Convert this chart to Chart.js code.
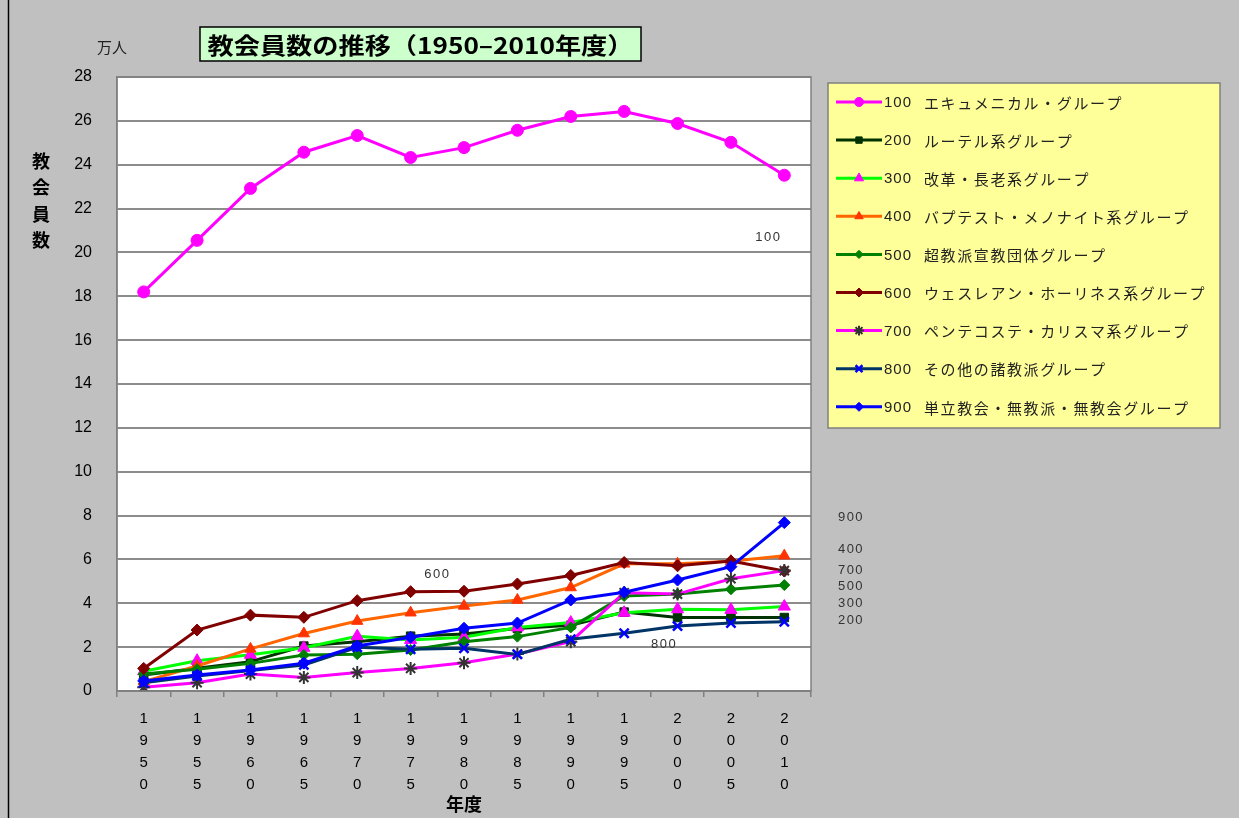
<!DOCTYPE html>
<html>
<head>
<meta charset="utf-8">
<script src="https://cdn.jsdelivr.net/npm/chart.js@4.4.1/dist/chart.umd.min.js"></script>
<style>
  html, body { margin: 0; padding: 0; background: #c0c0c0; }
  #wrap { position: relative; width: 1239px; height: 818px; }
</style>
</head>
<body>
<div id="wrap"><canvas id="chart" width="1239" height="818"></canvas></div>
<script>
// years and data (万人)
const years = ['1950','1955','1960','1965','1970','1975','1980','1985','1990','1995','2000','2005','2010'];

const s100 = [18.2, 20.55, 22.92, 24.57, 25.33, 24.33, 24.78, 25.57, 26.2, 26.43, 25.88, 25.02, 23.52];
const s200 = [0.73, 1.04, 1.34, 2.05, 2.25, 2.5, 2.6, 2.85, 3.0, 3.6, 3.35, 3.35, 3.35];
const s300 = [0.9, 1.38, 1.65, 1.97, 2.5, 2.33, 2.45, 2.9, 3.12, 3.57, 3.73, 3.7, 3.85];
const s400 = [0.43, 1.14, 1.92, 2.62, 3.19, 3.57, 3.88, 4.15, 4.72, 5.8, 5.8, 5.92, 6.17];
const s500 = [0.77, 0.99, 1.26, 1.64, 1.68, 1.87, 2.25, 2.48, 2.9, 4.33, 4.42, 4.64, 4.83];
const s600 = [1.03, 2.78, 3.46, 3.36, 4.12, 4.53, 4.55, 4.88, 5.27, 5.86, 5.71, 5.93, 5.47];
const s700 = [0.17, 0.38, 0.77, 0.62, 0.84, 1.03, 1.29, 1.69, 2.25, 4.48, 4.42, 5.12, 5.49];
const s800 = [0.38, 0.68, 0.93, 1.19, 1.99, 1.9, 1.95, 1.67, 2.36, 2.63, 2.96, 3.1, 3.16];
const s900 = [0.46, 0.73, 0.96, 1.27, 2.05, 2.45, 2.86, 3.1, 4.15, 4.5, 5.06, 5.67, 7.68];

const seriesCodes = ['100', '200', '300', '400', '500', '600', '700', '800', '900'];
const seriesNames = [
  'エキュメニカル・グループ',
  'ルーテル系グループ',
  '改革・長老系グループ',
  'バプテスト・メノナイト系グループ',
  '超教派宣教団体グループ',
  'ウェスレアン・ホーリネス系グループ',
  'ペンテコステ・カリスマ系グループ',
  'その他の諸教派グループ',
  '単立教会・無教派・無教会グループ'
];

// value labels: [text, category index, value]
const inLabels = [['100', 11.7, 20.7], ['600', 5.5, 5.3], ['800', 9.75, 2.14]];
const sideLabels = [['900', 7.9], ['400', 6.47], ['700', 5.52], ['500', 4.79], ['300', 4.01], ['200', 3.24]];

const CJK = '"Noto Sans CJK JP", sans-serif';
const NUM = '"Liberation Sans Narrow", "Liberation Sans", sans-serif';

function ds(code, label, data, line, pt, style, r, ptBorder, bw) {
  return {
    code: code, label: label, data: data,
    borderColor: line, borderWidth: 3, backgroundColor: pt,
    pointStyle: style, pointRadius: r, pointBackgroundColor: pt,
    pointBorderColor: ptBorder || pt, pointBorderWidth: bw || 1,
    tension: 0, fill: false
  };
}

const datasets = [
  ds(seriesCodes[0], seriesNames[0], s100, '#ff00ff', '#ff00ff', 'circle', 6),
  ds(seriesCodes[1], seriesNames[1], s200, '#003300', '#003300', 'rect', 6),
  ds(seriesCodes[2], seriesNames[2], s300, '#00ff00', '#ff00ff', 'triangle', 7),
  ds(seriesCodes[3], seriesNames[3], s400, '#ff6600', '#ff3300', 'triangle', 6.5),
  ds(seriesCodes[4], seriesNames[4], s500, '#008000', '#008000', 'rectRot', 5.5),
  ds(seriesCodes[5], seriesNames[5], s600, '#800000', '#800000', 'rectRot', 6),
  ds(seriesCodes[6], seriesNames[6], s700, '#ff00ff', '#333333', 'star', 6.5, '#333333', 2),
  ds(seriesCodes[7], seriesNames[7], s800, '#003366', '#0000ff', 'crossRot', 6.5, '#0000ff', 2.5),
  ds(seriesCodes[8], seriesNames[8], s900, '#0000ff', '#0000ff', 'rectRot', 6)
];
datasets.forEach((d, i) => { d.order = datasets.length - i; });

const decor = {
  id: 'decor',
  beforeDraw(chart) {
    const ctx = chart.ctx, a = chart.chartArea;
    ctx.save();
    ctx.fillStyle = '#c0c0c0';
    ctx.fillRect(0, 0, chart.width, chart.height);
    ctx.strokeStyle = '#000';
    ctx.lineWidth = 1.5;
    ctx.beginPath(); ctx.moveTo(8.5, 0); ctx.lineTo(8.5, chart.height); ctx.stroke();
    ctx.fillStyle = '#ffffff';
    ctx.fillRect(a.left, a.top, a.right - a.left, a.bottom - a.top);
    ctx.restore();
  },
  afterDraw(chart) {
    const ctx = chart.ctx, a = chart.chartArea;
    const xs = chart.scales.x, ys = chart.scales.y;
    ctx.save();
    // plot frame
    ctx.strokeStyle = '#808080';
    ctx.lineWidth = 1.5;
    ctx.strokeRect(a.left, a.top, a.right - a.left, a.bottom - a.top);

    // title box
    const title = '教会員数の推移（1950–2010年度）';
    const tx = 200, ty = 27, th = 34, bw = 441;
    ctx.fillStyle = '#ccffcc';
    ctx.fillRect(tx, ty, bw, th);
    ctx.strokeStyle = '#000';
    ctx.lineWidth = 1.5;
    ctx.strokeRect(tx, ty, bw, th);
    ctx.fillStyle = '#000';
    ctx.textBaseline = 'middle';
    ctx.textAlign = 'center';
    ctx.font = 'bold 23px ' + CJK;
    const tw = ctx.measureText(title).width;
    ctx.save();
    ctx.translate(tx + bw / 2, ty + th / 2 + 1);
    ctx.scale(426 / tw, 1);
    ctx.fillText(title, 0, 0);
    ctx.restore();

    // unit
    ctx.font = '15px ' + CJK;
    ctx.fillStyle = '#222';
    ctx.fillText('万人', 112, 47);

    // y title stacked
    ctx.font = 'bold 18px ' + CJK;
    ctx.fillStyle = '#000';
    ['教', '会', '員', '数'].forEach((c, i) => ctx.fillText(c, 41, 161 + i * 26.5));

    // value labels
    ctx.font = '13px "Liberation Sans", sans-serif';
    ctx.fillStyle = '#333';
    ctx.letterSpacing = '1.5px';
    inLabels.forEach(l => {
      ctx.fillText(l[0], xs.getPixelForValue(l[1]), ys.getPixelForValue(l[2]));
    });
    sideLabels.forEach(l => {
      ctx.fillText(l[0], a.right + 40, ys.getPixelForValue(l[1]));
    });
    ctx.letterSpacing = '0px';

    // legend
    const lx = a.right + 17, ly = 83, lw = 392, lh = 345;
    ctx.fillStyle = '#ffff99';
    ctx.fillRect(lx, ly, lw, lh);
    ctx.strokeStyle = '#808080';
    ctx.lineWidth = 1.5;
    ctx.strokeRect(lx, ly, lw, lh);
    ctx.textAlign = 'left';
    chart.data.datasets.forEach((d, i) => {
      const y = ly + 19 + i * 38.1;
      ctx.strokeStyle = d.borderColor;
      ctx.lineWidth = 3;
      ctx.beginPath(); ctx.moveTo(lx + 8, y); ctx.lineTo(lx + 54, y); ctx.stroke();
      ctx.fillStyle = d.pointBackgroundColor;
      ctx.strokeStyle = d.pointBorderColor;
      ctx.lineWidth = d.pointBorderWidth;
      Chart.helpers.drawPoint(ctx, { pointStyle: d.pointStyle, radius: d.pointRadius * 0.75, rotation: 0, borderWidth: d.pointBorderWidth }, lx + 31, y);
      ctx.fillStyle = '#222';
      ctx.font = '15px "Liberation Sans", sans-serif';
      ctx.letterSpacing = '1px';
      ctx.fillText(d.code, lx + 56, y + 1);
      ctx.font = '15px ' + CJK;
      ctx.letterSpacing = '1.6px';
      ctx.fillText(d.label, lx + 96, y + 1);
      ctx.letterSpacing = '0px';
    });
    ctx.restore();
  }
};

new Chart(document.getElementById('chart'), {
  type: 'line',
  data: { labels: years.map(y => y.split('')), datasets: datasets },
  options: {
    responsive: false,
    animation: false,
    layout: { padding: { top: 77, right: 428, bottom: 0, left: 0 } },
    plugins: { legend: { display: false }, tooltip: { enabled: false }, title: { display: false } },
    scales: {
      x: {
        offset: true,
        grid: { offset: true, drawOnChartArea: false, drawTicks: true, tickLength: 6, color: '#808080', lineWidth: 1.5 },
        border: { display: true, color: '#808080', width: 1.5 },
        ticks: { color: '#000', font: { family: NUM, size: 15, lineHeight: 1.47 }, padding: 11, maxRotation: 0, autoSkip: false },
        title: { display: true, text: '年度', color: '#000', font: { family: CJK, size: 18, weight: 'bold' }, padding: { top: 0, bottom: 3 } },
        afterFit(scale) { scale.height = 127; }
      },
      y: {
        min: 0, max: 28,
        grid: { color: '#8c8c8c', lineWidth: 2, drawTicks: false },
        border: { display: true, color: '#808080', width: 1.5 },
        ticks: { stepSize: 2, color: '#000', font: { family: NUM, size: 16 }, padding: 25 },
        afterFit(scale) { scale.width = 117; }
      }
    }
  },
  plugins: [decor]
});
</script>
</body>
</html>
